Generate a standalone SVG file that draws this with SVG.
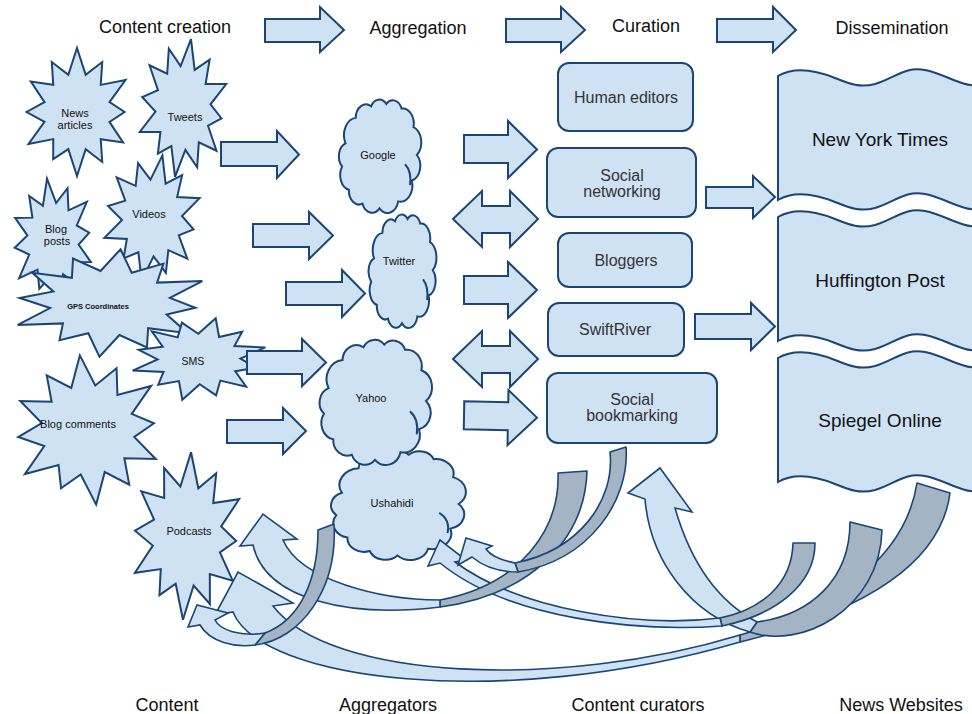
<svg xmlns="http://www.w3.org/2000/svg" width="972" height="714" viewBox="0 0 972 714">
<style>
.s{fill:#cfe2f3;stroke:#1b4674;stroke-width:2;stroke-linejoin:miter}
.g{fill:#a4b4c5;stroke:#1b4674;stroke-width:1.6;stroke-linejoin:round}
.c{fill:#cfe2f3;stroke:#1b4674;stroke-width:1.6;stroke-linejoin:miter}
text{font-family:"Liberation Sans",Arial,sans-serif;fill:#111;text-anchor:middle}
.h{font-size:18px}
.n{font-size:11px}
.b{font-size:16px;fill:#333}
.w{font-size:19px}
</style>
<defs>
<path id="star" vector-effect="non-scaling-stroke" d="M0,-1 L0.155,-0.58 L0.45,-0.78 L0.424,-0.424 L0.866,-0.5 L0.58,-0.155 L0.85,0 L0.58,0.155 L0.823,0.475 L0.424,0.424 L0.45,0.78 L0.155,0.58 L0,1 L-0.155,0.58 L-0.425,0.736 L-0.424,0.424 L-0.866,0.5 L-0.58,0.155 L-0.9,0 L-0.58,-0.155 L-0.823,-0.475 L-0.424,-0.424 L-0.45,-0.78 L-0.155,-0.58 Z"/>
<g id="cloud">
<path vector-effect="non-scaling-stroke" d="M10,40 A15,15 0 0 1 22,18 A12,12 0 0 1 40,8 A11,11 0 0 1 58,6 A11,11 0 0 1 76,10 A13,13 0 0 1 90,26 A14,14 0 0 1 94,50 A13,13 0 0 1 88,72 A14,14 0 0 1 72,90 A13,13 0 0 1 50,96 A12,12 0 0 1 30,92 A12,12 0 0 1 14,80 A13,13 0 0 1 6,60 A12,12 0 0 1 10,40 Z"/>
<path vector-effect="non-scaling-stroke" fill="none" d="M80,58 Q88,64 86,76"/>
</g>
<path id="tape" d="M0,0 C17,-10 37,-6 57,2 C72,8 82,12 97,8 C117,2 127,-10 147,-6 C167,-2 182,10 202,10 L202,134 C182,134 167,122 147,118 C127,114 117,126 97,132 C82,136 72,132 57,126 C37,118 17,114 0,124 Z"/>
</defs>

<g id="headers">
<text class="h" x="165" y="33">Content creation</text>
<text class="h" x="418" y="34">Aggregation</text>
<text class="h" x="646" y="32">Curation</text>
<text class="h" x="892" y="34">Dissemination</text>
<text class="h" x="167" y="711">Content</text>
<text class="h" x="388" y="711">Aggregators</text>
<text class="h" x="638" y="711">Content curators</text>
<text class="h" x="901" y="711">News Websites</text>
</g>

<g id="node-news"><use href="#star" class="s" transform="translate(77,112) scale(56,64)"/><text class="n" x="75" y="117">News</text><text class="n" x="75" y="129">articles</text></g>
<g id="node-tweets"><use href="#star" class="s" transform="translate(183,108) scale(46,70) rotate(10)"/><text class="n" x="185" y="121">Tweets</text></g>
<g id="node-blogposts"><use href="#star" class="s" transform="translate(53,240) scale(43,62) rotate(-8)"/><text class="n" x="56" y="233">Blog</text><text class="n" x="57" y="245">posts</text></g>
<g id="node-videos"><use href="#star" class="s" transform="translate(152,218) scale(50,64) rotate(12)"/><text class="n" x="149" y="218">Videos</text></g>
<g id="node-gps"><use href="#star" class="s" transform="translate(110,303) scale(101,54) rotate(6)"/><text x="98" y="309" style="font-size:7.5px;font-weight:bold">GPS Coordinates</text></g>
<g id="node-blogcomments"><use href="#star" class="s" transform="translate(88,430) scale(78,75) rotate(-6)"/><text class="n" x="78" y="428">Blog comments</text></g>
<g id="node-sms"><use href="#star" class="s" transform="translate(199,359) scale(69,42) rotate(14)"/><text x="193" y="365" style="font-size:10.5px">SMS</text></g>
<g id="node-podcasts"><use href="#star" class="s" transform="translate(187,536) scale(58,84) rotate(4)"/><text class="n" x="189" y="535">Podcasts</text></g>

<g id="node-google"><use href="#cloud" class="s" transform="translate(337,97) scale(0.85,1.16)"/><text class="n" x="378" y="159">Google</text></g>
<g id="node-twitter"><use href="#cloud" class="s" transform="translate(367,212) scale(0.70,1.16)"/><text class="n" x="399" y="265">Twitter</text></g>
<g id="node-ushahidi"><use href="#cloud" class="s" transform="translate(328,448) scale(1.39,1.12)"/><text class="n" x="392" y="507">Ushahidi</text></g>
<g id="node-yahoo"><use href="#cloud" class="s" transform="translate(317,337) scale(1.16,1.28)"/><text class="n" x="371" y="402">Yahoo</text></g>

<g id="node-human"><rect class="s" x="558" y="63" width="135" height="68" rx="11"/><text class="b" x="626" y="103">Human editors</text></g>
<g id="node-social"><rect class="s" x="547" y="148" width="149" height="69" rx="11"/><text class="b" x="622" y="181">Social</text><text class="b" x="622" y="197">networking</text></g>
<g id="node-bloggers"><rect class="s" x="558" y="233" width="134" height="54" rx="11"/><text class="b" x="626" y="266">Bloggers</text></g>
<g id="node-swiftriver"><rect class="s" x="548" y="303" width="136" height="53" rx="11"/><text class="b" x="615" y="335">SwiftRiver</text></g>
<g id="node-bookmarking"><rect class="s" x="547" y="373" width="170" height="70" rx="11"/><text class="b" x="632" y="405">Social</text><text class="b" x="632" y="421">bookmarking</text></g>

<g id="node-nyt"><use href="#tape" class="s" transform="translate(778,76)"/><text class="w" x="880" y="146">New York Times</text></g>
<g id="node-huffington"><use href="#tape" class="s" transform="translate(778,217)"/><text class="w" x="880" y="287">Huffington Post</text></g>
<g id="node-spiegel"><use href="#tape" class="s" transform="translate(778,358)"/><text class="w" x="880" y="427">Spiegel Online</text></g>

<g id="connectors">
<polygon class="s" points="265,19 320,19 320,7 344,30 320,52 320,42 265,42"/>
<polygon class="s" points="506,19 561,19 561,7 585,30 561,52 561,42 506,42"/>
<polygon class="s" points="717,19 773,19 773,7 796,30 773,52 773,42 717,42"/>

<polygon class="s" points="221,142 277,142 277,131 299,154.5 277,178 277,166 221,166"/>
<polygon class="s" points="253,224 309,224 309,212 333,235.5 309,259 309,247 253,247"/>
<polygon class="s" points="286,282 342,282 342,270 365,293.5 342,317 342,305 286,305"/>
<polygon class="s" points="247,351 302,351 302,339 326,362.5 302,386 302,374 247,374"/>
<polygon class="s" points="227,420 283,420 283,408 306,431 283,454 283,443 227,443"/>

<polygon class="s" points="464,135 508,135 508,121 537,149.5 508,178 508,163 464,163"/>
<polygon class="s" points="453,219 482,191 482,206 510,206 510,191 538,219 510,247 510,233 482,233 482,247"/>
<polygon class="s" points="464,276 508,276 508,262 537,290 508,318 508,304 464,304"/>
<polygon class="s" points="453,359 482,331 482,346 510,346 510,331 538,359 510,387 510,373 482,373 482,387"/>
<polygon class="s" points="464,402 508,402 508,390 537,417 508,445 508,430 464,430" transform="rotate(1 500 417)"/>

<polygon class="s" points="706,187 753,187 753,176 775,197 753,218 753,208 706,208"/>
<polygon class="s" points="695,314 751,314 751,303 775,326.5 751,350 751,339 695,339"/>

<path class="g" d="M917,483 C905,560 830,610 740,635 L740,642 C850,615 940,570 950,493 Z"/>
<path class="c" d="M740,635 C560,690 330,680 273,606 L293,603 L238,572 L215,615 L233,612 C260,680 500,712 740,642 Z"/>

<path class="g" d="M850,522 C850,580 810,615 757,622 L750,632 C800,650 880,610 882,530 Z"/>
<path class="c" d="M645,499 C650,560 690,615 750,632 L757,622 C715,600 690,560 675,508 L692,512 L660,468 L628,493 Z"/>

<path class="g" d="M793,543 C792,585 760,610 720,618 L722,626 C775,615 815,585 815,543 Z"/>
<path class="c" d="M720,618 C640,628 520,610 455,562 L466,560 L440,540 L428,566 L440,563 C510,620 640,632 722,626 Z"/>

<path class="g" d="M558,473 C560,530 520,585 440,600 L440,607 C530,595 585,540 587,471 Z"/>
<path class="c" d="M440,600 C380,600 300,580 283,540 L297,539 L263,514 L240,546 L253,545 C265,600 350,618 440,607 Z"/>

<path class="g" d="M610,452 C615,500 580,550 515,563 L518,572 C590,560 630,500 626,447 Z"/>
<path class="c" d="M515,563 C500,560 490,555 486,549 L492,546 L466,538 L458,565 L472,557 C485,568 500,572 518,572 Z"/>

<path class="g" d="M318,530 C318,580 300,620 265,633 L255,645 C300,640 338,590 334,524 Z"/>
<path class="c" d="M265,633 C240,637 220,630 215,620 L228,613 L197,605 L188,627 L200,625 C210,642 235,648 255,645 Z"/>
</g>
</svg>
